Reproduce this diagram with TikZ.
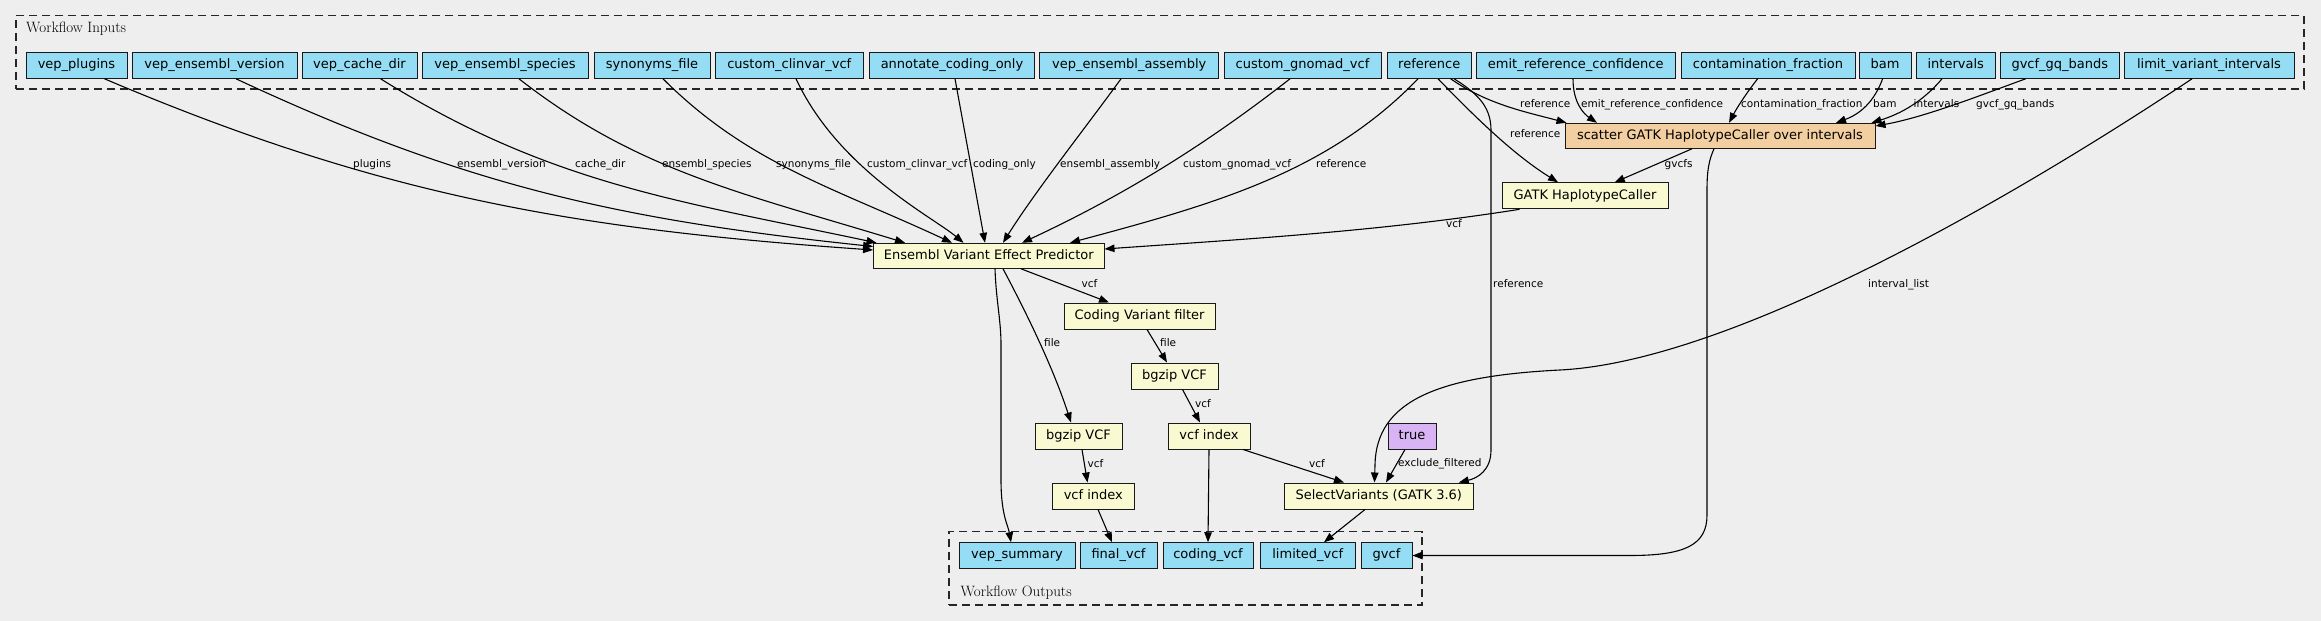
\documentclass[tikz,border=0pt]{standalone}
\usepackage{fontspec}
\newfontfamily\djv{DejaVu Sans}
\usetikzlibrary{arrows.meta}
\definecolor{bgcol}{HTML}{EEEEEE}
\definecolor{iocol}{HTML}{94DDF4}
\definecolor{stepcol}{HTML}{FAFAD2}
\definecolor{scatcol}{HTML}{F3CEA1}
\definecolor{truecol}{HTML}{D8B4F5}
\tikzset{
  box/.style={draw=black!90, line width=1pt, minimum height=26pt, inner sep=0pt,
    font=\djv\fontsize{13}{15}\selectfont, text height=9.5pt, text depth=3pt},
  io/.style={box, fill=iocol},
  stepbox/.style={box, fill=stepcol},
  lbl/.style={font=\djv\fontsize{10.5}{12}\selectfont, inner sep=0pt, anchor=west,
    text height=7.5pt, text depth=2.2pt},
  edge/.style={line width=1.1pt, -{Triangle[length=10pt,width=7.5pt]}},
  dashbox/.style={draw=black!85, line width=1.1pt, dash pattern=on 8pt off 5pt, inner sep=0pt},
  grp/.style={anchor=base west, inner sep=0pt, font=\fontsize{15}{17}\selectfont}
}
\begin{document}
\begin{tikzpicture}[x=1pt,y=1pt]
\fill[bgcol] (0,0) rectangle (2321,-621);
\useasboundingbox (0,0) rectangle (2321,-621);

% group boxes
\node[dashbox, minimum width=2288pt, minimum height=73.3pt] (inbox) at (1160,-52.35) {};
\node[grp] (inlbl) at (26,-32.3) {Workflow Inputs};
\node[dashbox, minimum width=473pt, minimum height=73.3pt] (outbox) at (1185.5,-568.35) {};
\node[grp] (outlbl) at (960.5,-596) {Workflow Outputs};

% inputs
\node[io, minimum width=101pt]   (plug)  at (76.5,-65.3)   {vep\_plugins};
\node[io, minimum width=165pt]   (ver)   at (214.5,-65.3)  {vep\_ensembl\_version};
\node[io, minimum width=115pt]   (cache) at (359.5,-65.3)  {vep\_cache\_dir};
\node[io, minimum width=166pt]   (spec)  at (505,-65.3)    {vep\_ensembl\_species};
\node[io, minimum width=116pt]   (syn)   at (652,-65.3)    {synonyms\_file};
\node[io, minimum width=148.5pt] (clin)  at (789.25,-65.3) {custom\_clinvar\_vcf};
\node[io, minimum width=165pt]   (cod)   at (952,-65.3)    {annotate\_coding\_only};
\node[io, minimum width=179.2pt] (asm)   at (1129.2,-65.3) {vep\_ensembl\_assembly};
\node[io, minimum width=157pt]   (gno)   at (1302.5,-65.3) {custom\_gnomad\_vcf};
\node[io, minimum width=84.5pt]  (ref)   at (1429.25,-65.3) {reference};
\node[io, minimum width=198.5pt] (emit)  at (1575.75,-65.3) {emit\_reference\_confidence};
\node[io, minimum width=174pt]   (cont)  at (1768,-65.3)   {contamination\_fraction};
\node[io, minimum width=52pt]    (bam)   at (1885,-65.3)   {bam};
\node[io, minimum width=78.5pt]  (intv)  at (1955.75,-65.3) {intervals};
\node[io, minimum width=118.3pt] (gq)    at (2059.85,-65.3) {gvcf\_gq\_bands};
\node[io, minimum width=170pt]   (lim)   at (2209,-65.3)   {limit\_variant\_intervals};

% steps
\node[box, fill=scatcol, minimum width=310pt, minimum height=25pt] (scat) at (1720,-135.8) {scatter GATK HaplotypeCaller over intervals};
\node[stepbox, minimum width=166pt] (hc)  at (1585,-195.8) {GATK HaplotypeCaller};
\node[stepbox, minimum width=230.4pt, minimum height=25pt] (vep) at (988.8,-255.8) {Ensembl Variant Effect Predictor};
\node[stepbox, minimum width=151pt] (cvf) at (1139.5,-316) {Coding Variant filter};
\node[stepbox, minimum width=87pt]  (bzr) at (1174.5,-376) {bgzip VCF};
\node[stepbox, minimum width=82pt]  (vir) at (1209,-436)   {vcf index};
\node[stepbox, minimum width=87pt]  (bzl) at (1078.5,-436) {bgzip VCF};
\node[stepbox, minimum width=82.6pt] (vil) at (1093.3,-496) {vcf index};
\node[box, fill=truecol, minimum width=48pt] (tru) at (1412,-436) {true};
\node[stepbox, minimum width=188.4pt] (sv) at (1378.8,-496) {SelectVariants (GATK 3.6)};

% outputs
\node[io, minimum width=116pt, minimum height=25.5pt]  (vsum) at (1017,-555.5)    {vep\_summary};
\node[io, minimum width=77pt, minimum height=25.5pt]   (fvcf) at (1118.5,-555.5)  {final\_vcf};
\node[io, minimum width=90pt, minimum height=25.5pt]   (cvcf) at (1208,-555.5)    {coding\_vcf};
\node[io, minimum width=94.5pt, minimum height=25.5pt] (lvcf) at (1307.75,-555.5) {limited\_vcf};
\node[io, minimum width=51pt, minimum height=25.5pt]   (gvcf) at (1386.5,-555.5)  {gvcf};

% edges inputs -> VEP
\draw[edge] ([xshift=28pt]plug.south) .. controls +(-23:300) and +(176:300) .. ([yshift=5.8pt]vep.west);
\draw[edge] ([xshift=21.5pt]ver.south) .. controls +(-25:250) and +(174:260) .. ([yshift=9.3pt]vep.west);
\draw[edge] ([xshift=21.1pt]cache.south) .. controls +(-32:200) and +(168:200) .. ([xshift=3.4pt]vep.north west);
\draw[edge] ([xshift=14pt]spec.south) .. controls +(-38:150) and +(163:170) .. ([xshift=-83.8pt]vep.north);
\draw[edge] ([xshift=11pt]syn.south) .. controls +(-45:120) and +(155:130) .. ([xshift=-36.8pt]vep.north);
\draw[edge] ([xshift=6.75pt]clin.south) .. controls +(-65:100) and +(140:40) .. ([xshift=-25.3pt]vep.north);
\draw[edge] ([xshift=3pt]cod.south) -- ([xshift=-3.8pt]vep.north);
\draw[edge] ([xshift=-8.2pt]asm.south) .. controls +(-126:60) and +(58:60) .. ([xshift=14.2pt]vep.north);
\draw[edge] ([xshift=-12.5pt]gno.south) .. controls +(-142:110) and +(25:110) .. ([xshift=33.2pt]vep.north);
\draw[edge] ([xshift=-11.2pt]ref.south) .. controls +(-134:130) and +(15:150) .. ([xshift=81.2pt]vep.north);
\draw[edge] ([xshift=-65.4pt]hc.south) .. controls +(-171:140) and +(4:140) .. ([yshift=6.8pt]vep.east);

% reference to others
\draw[edge] ([xshift=21.4pt]ref.south) .. controls +(-35:45) and +(165:40) .. ([xshift=2pt]scat.north west);
\draw[edge] ([xshift=8.8pt]ref.south) .. controls +(-46:60) and +(148:50) .. ([xshift=-27pt]hc.north);
\draw[edge] ([xshift=24.8pt]ref.south) .. controls (1475,-92) and (1491,-105) .. (1491,-130) -- (1491,-450)
  .. controls (1491,-470) and (1478,-478) .. ([xshift=80pt]sv.north);

% inputs -> scatter
\draw[edge] ([xshift=-2.75pt]emit.south) .. controls +(-90:25) and +(146:15) .. ([xshift=-123pt]scat.north);
\draw[edge] ([xshift=-10.4pt]cont.south) .. controls +(-128:18) and +(62:18) .. ([xshift=9pt]scat.north);
\draw[edge] ([xshift=-2.4pt]bam.south) .. controls +(-110:25) and +(20:25) .. ([xshift=116pt]scat.north);
\draw[edge] ([xshift=-13.75pt]intv.south) .. controls +(-130:30) and +(17:30) .. ([xshift=-4pt]scat.north east);
\draw[edge] ([xshift=-34.25pt]gq.south) .. controls +(-160:45) and +(10:50) .. ([yshift=9.8pt]scat.east);

% scatter outputs
\draw[edge] ([xshift=-28pt]scat.south) -- ([xshift=29.7pt]hc.north);
\draw[edge] ([xshift=-6pt]scat.south) .. controls (1709,-160) and (1707,-170) .. (1707,-190) -- (1707,-515)
  .. controls (1707,-545) and (1685,-555.5) .. (1630,-555.5) -- (gvcf.east);

% limit_variant_intervals -> SelectVariants
\draw[edge] ([xshift=-17pt]lim.south) .. controls (2100,-140) and (1760,-360) .. (1560,-370)
  .. controls (1440,-376) and (1376,-400) .. (1375,-465) -- ([xshift=-4.3pt]sv.north);

% lower chain
\draw[edge] ([xshift=-7pt]tru.south) -- ([xshift=7.2pt]sv.north);
\draw[edge] ([xshift=34pt]vir.south) -- ([xshift=-34.8pt]sv.north);
\draw[edge] (vir.south) -- (cvcf.north);
\draw[edge] ([xshift=8pt]bzr.south) -- ([xshift=-9pt]vir.north);
\draw[edge] ([xshift=7.5pt]cvf.south) -- ([xshift=-7.5pt]bzr.north);
\draw[edge] ([xshift=32.2pt]vep.south) -- ([xshift=-30.5pt]cvf.north);
\draw[edge] ([xshift=14.2pt]vep.south) .. controls +(-62:55) and +(108:55) .. ([xshift=-7.5pt]bzl.north);
\draw[edge] ([xshift=6.2pt]vep.south) .. controls (996,-300) and (1001,-320) .. (1001,-345) -- (1001,-480)
  .. controls (1001,-515) and (1008,-525) .. ([xshift=-6pt]vsum.north);
\draw[edge] ([xshift=3.5pt]bzl.south) -- ([xshift=-5.8pt]vil.north);
\draw[edge] ([xshift=4.7pt]vil.south) -- ([xshift=-6.5pt]fvcf.north);
\draw[edge] ([xshift=-13.8pt]sv.south) -- ([xshift=16.25pt]lvcf.north);

% edge labels
\node[lbl] (l1)  at (353,-165)   {plugins};
\node[lbl] (l2)  at (457,-165)   {ensembl\_version};
\node[lbl] (l3)  at (575,-165)   {cache\_dir};
\node[lbl] (l4)  at (662,-165)   {ensembl\_species};
\node[lbl] (l5)  at (776,-165)   {synonyms\_file};
\node[lbl] (l6)  at (867,-165)   {custom\_clinvar\_vcf};
\node[lbl] (l7)  at (973,-165)   {coding\_only};
\node[lbl] (l8)  at (1060,-165)  {ensembl\_assembly};
\node[lbl] (l9)  at (1183,-165)  {custom\_gnomad\_vcf};
\node[lbl] (l10) at (1316,-165)  {reference};
\node[lbl] (l11) at (1446,-225)  {vcf};
\node[lbl] (l12) at (1520,-105)  {reference};
\node[lbl] (l13) at (1581,-105)  {emit\_reference\_confidence};
\node[lbl] (l14) at (1741,-105)  {contamination\_fraction};
\node[lbl] (l15) at (1873,-105)  {bam};
\node[lbl] (l16) at (1913.5,-105) {intervals};
\node[lbl] (l17) at (1976,-105)  {gvcf\_gq\_bands};
\node[lbl] (l18) at (1510,-135)  {reference};
\node[lbl] (l19) at (1664.5,-165) {gvcfs};
\node[lbl] (l20) at (1868,-285)  {interval\_list};
\node[lbl] (l21) at (1493,-285)  {reference};
\node[lbl] (l22) at (1081.5,-285) {vcf};
\node[lbl] (l23) at (1044,-344)  {file};
\node[lbl] (l24) at (1160,-344)  {file};
\node[lbl] (l25) at (1195,-405)  {vcf};
\node[lbl] (l26) at (1087.5,-465) {vcf};
\node[lbl] (l27) at (1309,-465)  {vcf};
\node[lbl] (l28) at (1398,-464)  {exclude\_filtered};
\end{tikzpicture}
\end{document}
